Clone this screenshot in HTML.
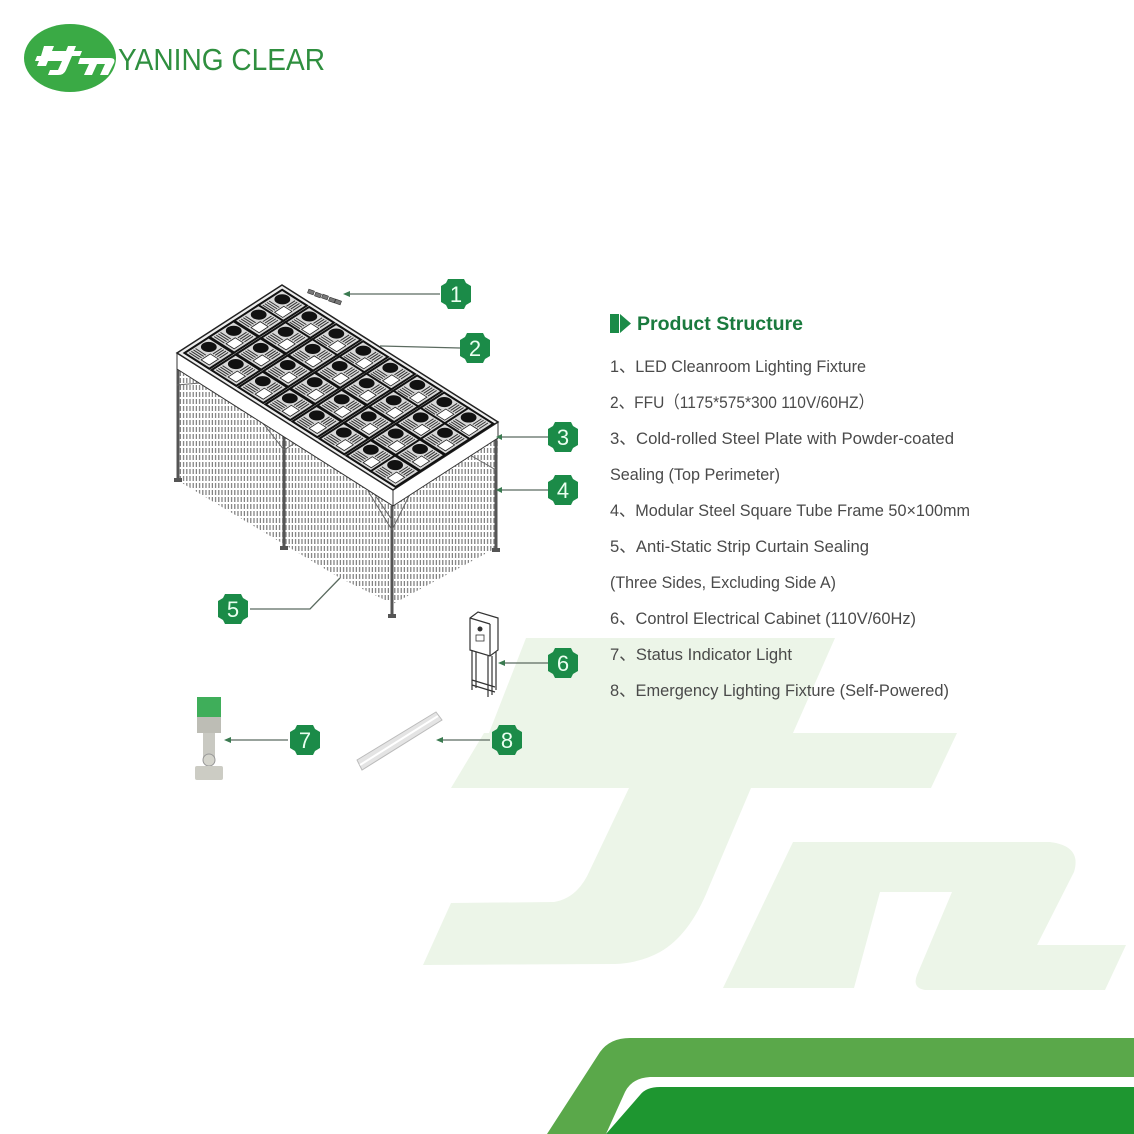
<!DOCTYPE html>
<html><head><meta charset="utf-8"><style>
html,body{margin:0;padding:0;background:#fff;}
body{width:1134px;height:1134px;overflow:hidden;position:relative;}
svg{position:absolute;left:0;top:0;}
</style></head><body>
<svg width="1134" height="1134" viewBox="0 0 1134 1134" xmlns="http://www.w3.org/2000/svg">
<defs>
  <pattern id="cur" width="3.2" height="7" patternUnits="userSpaceOnUse">
    <rect x="0.6" y="0" width="1.2" height="5" fill="#7a7a7a"/>
  </pattern>
  <g id="cell">
    <rect x="0.04" y="0.04" width="0.92" height="0.92" fill="#d8d8d8" stroke="#111" stroke-width="2" vector-effect="non-scaling-stroke"/>
    <ellipse cx="0.32" cy="0.32" rx="0.21" ry="0.21" fill="#111"/>
    <rect x="0.55" y="0.5" width="0.3" height="0.35" fill="#fff" stroke="#222" stroke-width="0.8" vector-effect="non-scaling-stroke"/>
    <path d="M0.12 0.62 H0.5 M0.12 0.7 H0.5 M0.12 0.78 H0.5 M0.12 0.86 H0.5 M0.6 0.12 V0.45 M0.68 0.12 V0.45 M0.76 0.12 V0.45 M0.84 0.12 V0.45" stroke="#333" stroke-width="1" vector-effect="non-scaling-stroke"/>
  </g>
  <g id="badge">
    <path d="M-8 -15 H8 L10 -11 L15 -8 V8 L10 11 L8 15 H-8 L-10 11 L-15 8 V-8 L-10 -11 Z" fill="#1b8b48"/>
  </g>
</defs>

<!-- watermark -->
<path d="M526 638 L835 638 L793 733 L957 733 L931 788 L751 788 L709 887 Q690 935 660 952 Q640 963 615 964 L423 965 L451 903 L554 902 Q578 898 590 870 L629 788 L451 788 L484 733 L489 733 Z" fill="#ecf5e8"/>
<path d="M793 842 L1050 842 Q1082 846 1074 872 L1037 945 L1126 945 L1105 990 L925 990 Q912 988 917 975 L952 892 L880 892 L854 988 L723 988 Z" fill="#ecf5e8"/>

<!-- bottom bands -->
<path d="M547 1134 L600 1052 Q610 1038 630 1038 L1134 1038 L1134 1077 L650 1077 Q632 1078 625 1092 L606 1134 Z" fill="#5aa84a"/>
<path d="M606 1134 L640 1095 Q646 1087 660 1087 L1134 1087 L1134 1134 Z" fill="#1e9630"/>

<!-- logo -->
<ellipse cx="70" cy="58" rx="46" ry="34" fill="#3aaa45"/>
<g fill="#fff">
  <path d="M44 46 h10 l-2 5 h14 l2 -5 h8 l-2 5 h8 l-2 5 h-8 l-6 14 q-2 5 -8 5 h-10 l2 -5 h8 l4 -9 h-14 l-2 5 h-9 l2 -5 h-4 l2 -5 h4 z"/>
  <path d="M80 58 h30 q6 0 4 5 l-6 12 h-8 l5 -11 h-8 l-5 11 h-8 l5 -11 h-11 z"/>
</g>
<text x="118" y="70" font-family="Liberation Sans, sans-serif" font-size="31" fill="#2f8f3f" textLength="207" lengthAdjust="spacingAndGlyphs">YANING CLEAR</text>

<!-- cleanroom: curtains -->
<polygon points="177,369 393,506 391,603 340,578 177,480" fill="url(#cur)"/>
<polygon points="393,506 498,438 496,548 391,605" fill="url(#cur)"/>
<!-- legs -->
<g stroke="#555" stroke-width="3" fill="none">
  <line x1="178" y1="369" x2="178" y2="480"/>
  <line x1="284" y1="436" x2="284" y2="548"/>
  <line x1="392" y1="506" x2="392" y2="616"/>
  <line x1="496" y1="438" x2="496" y2="550"/>
</g>
<g stroke="#666" stroke-width="1" fill="none">
  <path d="M262 422 L284 450 L306 436"/>
  <path d="M368 491 L392 530 L410 494 M375 495 L392 520"/>
  <path d="M470 455 L496 470"/>
  <path d="M177 385 L200 383"/>
</g>
<g fill="#555"><rect x="174" y="478" width="8" height="4"/><rect x="280" y="546" width="8" height="4"/><rect x="388" y="614" width="8" height="4"/><rect x="492" y="548" width="8" height="4"/></g>
<!-- top band -->
<polygon points="177,353 393,490 393,506 177,369" fill="#fff" stroke="#333" stroke-width="1"/>
<polygon points="393,490 498,422 498,438 393,506" fill="#fff" stroke="#333" stroke-width="1"/>
<!-- top face -->
<g transform="matrix(27,17.125,-26.25,17,282,285)">
  <rect x="0" y="0" width="8" height="4" fill="#eee" stroke="#222" stroke-width="1.5" vector-effect="non-scaling-stroke"/>
  <g>
    <use href="#cell" x="0.1" y="0.1"/><use href="#cell" x="1.1" y="0.1"/><use href="#cell" x="2.1" y="0.1"/><use href="#cell" x="3.1" y="0.1"/><use href="#cell" x="4.1" y="0.1"/><use href="#cell" x="5.1" y="0.1"/><use href="#cell" x="6.1" y="0.1"/><use href="#cell" x="7.0" y="0.1"/>
    <use href="#cell" x="0.1" y="1.0"/><use href="#cell" x="1.1" y="1.0"/><use href="#cell" x="2.1" y="1.0"/><use href="#cell" x="3.1" y="1.0"/><use href="#cell" x="4.1" y="1.0"/><use href="#cell" x="5.1" y="1.0"/><use href="#cell" x="6.1" y="1.0"/><use href="#cell" x="7.0" y="1.0"/>
    <use href="#cell" x="0.1" y="1.95"/><use href="#cell" x="1.1" y="1.95"/><use href="#cell" x="2.1" y="1.95"/><use href="#cell" x="3.1" y="1.95"/><use href="#cell" x="4.1" y="1.95"/><use href="#cell" x="5.1" y="1.95"/><use href="#cell" x="6.1" y="1.95"/><use href="#cell" x="7.0" y="1.95"/>
    <use href="#cell" x="0.1" y="2.9"/><use href="#cell" x="1.1" y="2.9"/><use href="#cell" x="2.1" y="2.9"/><use href="#cell" x="3.1" y="2.9"/><use href="#cell" x="4.1" y="2.9"/><use href="#cell" x="5.1" y="2.9"/><use href="#cell" x="6.1" y="2.9"/><use href="#cell" x="7.0" y="2.9"/>
  </g>
</g>

<!-- item 1 LED strip -->
<g fill="#777" stroke="#333" stroke-width="0.6">
  <rect x="308" y="290" width="6" height="4" transform="rotate(20 311 292)"/>
  <rect x="315" y="293" width="6" height="4" transform="rotate(20 318 295)"/>
  <rect x="322" y="295" width="6" height="4" transform="rotate(20 325 297)"/>
  <rect x="329" y="298" width="6" height="4" transform="rotate(20 332 300)"/>
  <rect x="335" y="300" width="6" height="4" transform="rotate(20 338 302)"/>
</g>
<!-- item 6 cabinet -->
<g stroke="#333" stroke-width="1.2" fill="#fff">
  <polygon points="470,618 478,612 498,618 498,650 490,656 470,650"/>
  <line x1="490" y1="624" x2="490" y2="656"/>
  <line x1="470" y1="618" x2="490" y2="624"/>
  <line x1="472" y1="650" x2="472" y2="690"/><line x1="476" y1="652" x2="476" y2="688"/>
  <line x1="488" y1="656" x2="488" y2="697"/><line x1="492" y1="656" x2="492" y2="695"/><line x1="496" y1="652" x2="496" y2="690"/>
  <line x1="472" y1="680" x2="495" y2="687"/>
  <line x1="472" y1="685" x2="495" y2="692"/>
</g>
<circle cx="480" cy="629" r="2.5" fill="#333"/>
<rect x="476" y="635" width="8" height="6" fill="none" stroke="#333" stroke-width="0.8"/>
<!-- item 7 indicator -->
<rect x="197" y="697" width="24" height="20" fill="#3fae5a"/>
<rect x="197" y="717" width="24" height="16" fill="#bdbdb5"/>
<rect x="203" y="733" width="12" height="30" fill="#c9c9c2"/>
<circle cx="209" cy="760" r="6" fill="#d4d4cc" stroke="#999"/>
<rect x="195" y="766" width="28" height="14" rx="2" fill="#ccccc4"/>
<!-- item 8 tube -->
<polygon points="357,760 436,712 442,720 362,770" fill="#e4e4e4" stroke="#bbb"/>
<line x1="360" y1="765" x2="438" y2="716" stroke="#fff" stroke-width="2"/>

<!-- leaders -->
<g stroke="#5b6b60" stroke-width="1.3" fill="none">
  <line x1="440" y1="294" x2="348" y2="294"/>
  <line x1="460" y1="348" x2="380" y2="346"/>
  <line x1="548" y1="437" x2="500" y2="437"/>
  <line x1="548" y1="490" x2="500" y2="490"/>
  <polyline points="250,609 310,609 340,578"/>
  <line x1="548" y1="663" x2="502" y2="663"/>
  <line x1="288" y1="740" x2="228" y2="740"/>
  <line x1="490" y1="740" x2="440" y2="740"/>
</g>
<g fill="#3a7a50">
  <path d="M343 294 l7 -3 v6 z"/><path d="M496 437 l6 -3 v6 z"/><path d="M496 490 l6 -3 v6 z"/>
  <path d="M498 663 l7 -3 v6 z"/><path d="M224 740 l7 -3 v6 z"/><path d="M436 740 l7 -3 v6 z"/>
</g>

<!-- badges -->
<g font-family="Liberation Sans, sans-serif" font-size="22" fill="#eafff0" text-anchor="middle">
  <use href="#badge" x="456" y="294"/><text x="456" y="302">1</text>
  <use href="#badge" x="475" y="348"/><text x="475" y="356">2</text>
  <use href="#badge" x="563" y="437"/><text x="563" y="445">3</text>
  <use href="#badge" x="563" y="490"/><text x="563" y="498">4</text>
  <use href="#badge" x="233" y="609"/><text x="233" y="617">5</text>
  <use href="#badge" x="563" y="663"/><text x="563" y="671">6</text>
  <use href="#badge" x="305" y="740"/><text x="305" y="748">7</text>
  <use href="#badge" x="507" y="740"/><text x="507" y="748">8</text>
</g>

<!-- text panel -->
<rect x="610" y="314" width="9" height="19" fill="#1b8b48"/>
<path d="M620 314 L631 323.5 L620 333 Z" fill="#1b8b48"/>
<path d="M623 314 L634 323.5 L623 333" fill="none" stroke="#fff" stroke-width="1.5"/>
<text x="637" y="330" font-family="Liberation Sans, sans-serif" font-weight="bold" font-size="19" fill="#1a7a3e" textLength="166" lengthAdjust="spacingAndGlyphs">Product Structure</text>
<g font-family="Liberation Sans, 'Noto Sans CJK SC', sans-serif" font-size="17" fill="#4a4a4a">
  <text x="610" y="372" textLength="256" lengthAdjust="spacingAndGlyphs">1、LED Cleanroom Lighting Fixture</text>
  <text x="610" y="408" textLength="264" lengthAdjust="spacingAndGlyphs">2、FFU（1175*575*300  110V/60HZ）</text>
  <text x="610" y="444" textLength="344" lengthAdjust="spacingAndGlyphs">3、Cold-rolled Steel Plate with Powder-coated</text>
  <text x="610" y="480" textLength="170" lengthAdjust="spacingAndGlyphs">Sealing (Top Perimeter)</text>
  <text x="610" y="516" textLength="360" lengthAdjust="spacingAndGlyphs">4、Modular Steel Square Tube Frame 50×100mm</text>
  <text x="610" y="552" textLength="259" lengthAdjust="spacingAndGlyphs">5、Anti-Static Strip Curtain Sealing</text>
  <text x="610" y="588" textLength="226" lengthAdjust="spacingAndGlyphs">(Three Sides, Excluding Side A)</text>
  <text x="610" y="624" textLength="306" lengthAdjust="spacingAndGlyphs">6、Control Electrical Cabinet (110V/60Hz)</text>
  <text x="610" y="660" textLength="182" lengthAdjust="spacingAndGlyphs">7、Status Indicator Light</text>
  <text x="610" y="696" textLength="339" lengthAdjust="spacingAndGlyphs">8、Emergency Lighting Fixture (Self-Powered)</text>
</g>
</svg>
</body></html>
